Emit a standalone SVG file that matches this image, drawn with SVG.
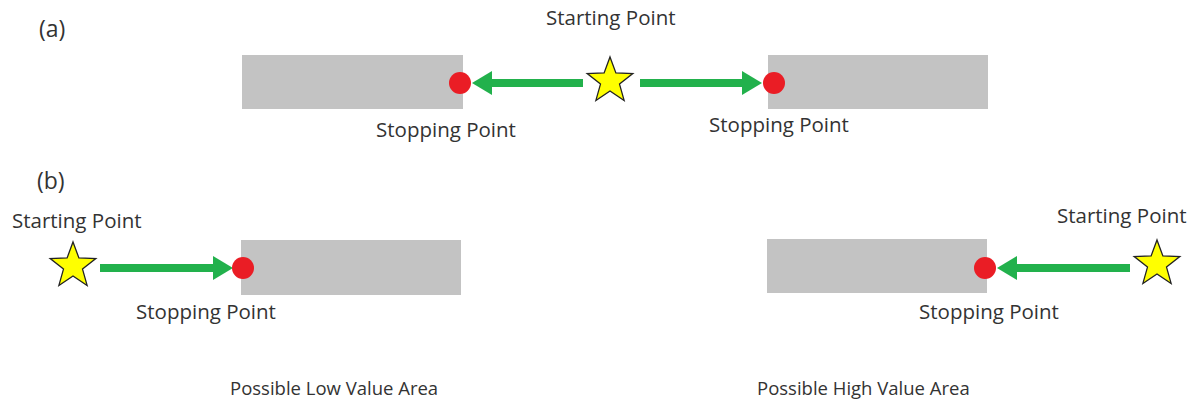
<svg xmlns="http://www.w3.org/2000/svg" width="1198" height="401" viewBox="0 0 1198 401">
<style>
.t{font-family:"Open Sans","Liberation Sans",sans-serif;font-size:20.5px;fill:#333}
.cap{font-size:18.5px}
.lab{font-size:23px}
.area{fill:#c3c3c3}
.dot{fill:#ea1d25}
.star{fill:#ffff00;stroke:#222;stroke-width:1.3;stroke-linejoin:miter}
.arr{stroke:#22b14c;stroke-width:8;fill:none;marker-end:url(#ah)}
</style>
<defs>
<marker id="ah" markerUnits="userSpaceOnUse" markerWidth="22" markerHeight="26" refX="0" refY="12" orient="auto">
<path d="M0,0 L20,12 L0,24 z" fill="#22b14c"/>
</marker>
<polygon id="starShape" class="star" points="0,-24 5.88,-8.09 22.83,-7.42 9.51,3.09 14.11,19.42 0,10 -14.11,19.42 -9.51,3.09 -22.83,-7.42 -5.88,-8.09"/>
</defs>
<rect width="1198" height="401" fill="#fff"/>
<g id="label-a"><text class="t lab" x="39" y="37">(a)</text></g>
<g id="label-b"><text class="t lab" x="37" y="189">(b)</text></g>

<g id="a-left-area"><rect class="area" x="242" y="55" width="221" height="54"/></g>
<g id="a-right-area"><rect class="area" x="768" y="55" width="220" height="54"/></g>
<g id="b-left-area"><rect class="area" x="241" y="240" width="220" height="55"/></g>
<g id="b-right-area"><rect class="area" x="767" y="239" width="220" height="54"/></g>

<g id="connectors">
<path class="arr" d="M583,83 H492"/>
<path class="arr" d="M640,83 H742"/>
<path class="arr" d="M100,268 H213"/>
<path class="arr" d="M1130,268 H1017"/>
</g>

<g id="a-start"><use href="#starShape" x="610" y="81"/><text class="t" x="546" y="25">Starting Point</text></g>
<g id="a-stop-left"><circle class="dot" cx="460" cy="83" r="11"/><text class="t" x="376" y="137">Stopping Point</text></g>
<g id="a-stop-right"><circle class="dot" cx="774" cy="83" r="11"/><text class="t" x="709" y="132">Stopping Point</text></g>

<g id="b-left-start"><use href="#starShape" x="73" y="266"/><text class="t" x="12" y="228">Starting Point</text></g>
<g id="b-left-stop"><circle class="dot" cx="243" cy="268" r="11"/><text class="t" x="136" y="319">Stopping Point</text></g>
<g id="b-right-start"><use href="#starShape" x="1157" y="264"/><text class="t" x="1057" y="223">Starting Point</text></g>
<g id="b-right-stop"><circle class="dot" cx="985" cy="268" r="11"/><text class="t" x="919" y="319">Stopping Point</text></g>

<g id="caption-low"><text class="t cap" x="230" y="395">Possible Low Value Area</text></g>
<g id="caption-high"><text class="t cap" x="757" y="395">Possible High Value Area</text></g>
</svg>
